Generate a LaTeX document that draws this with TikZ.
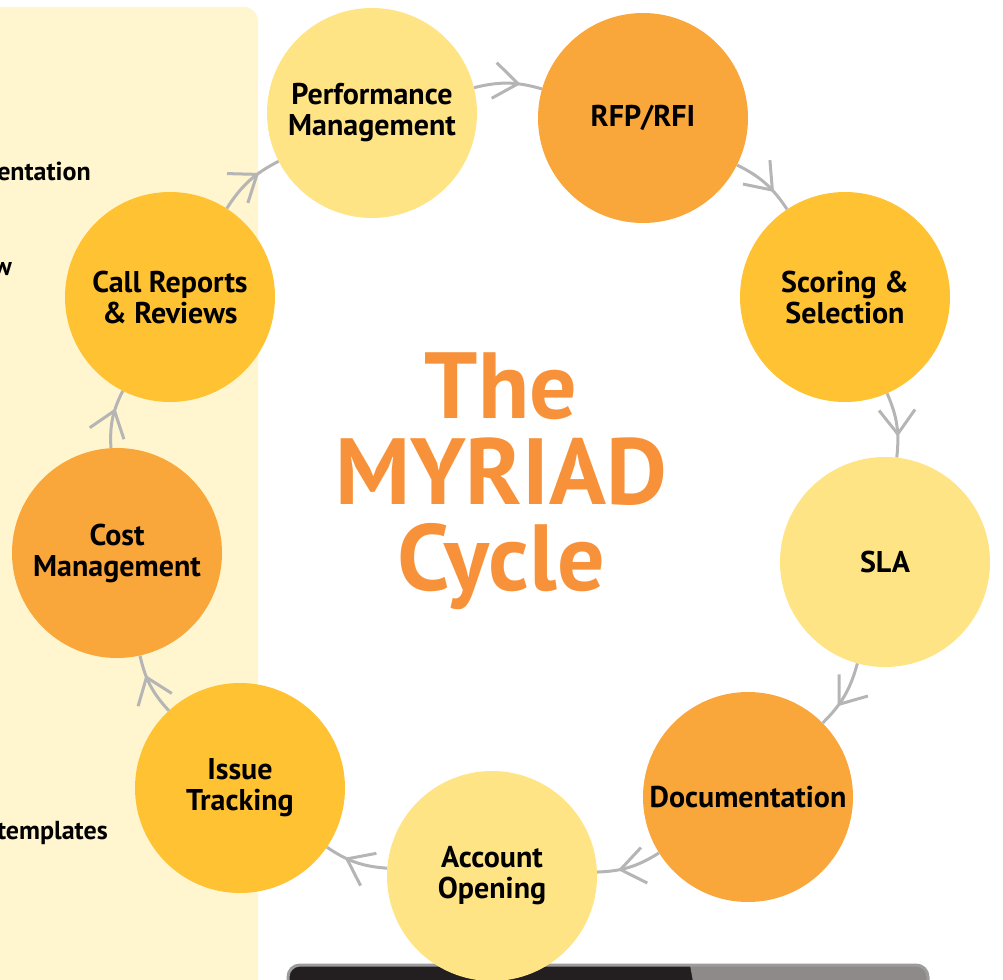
\documentclass[tikz,border=0pt]{standalone}
\usepackage{fontspec}
\setmainfont{PT Sans}
\usetikzlibrary{arrows.meta,decorations.markings}

\definecolor{paleyellow}{HTML}{FFE485}
\definecolor{deeporange}{HTML}{F9A63B}
\definecolor{goldyellow}{HTML}{FFC233}
\definecolor{panelcream}{HTML}{FFF5CF}
\definecolor{arrowgray}{HTML}{B5B5B5}
\definecolor{titleorange}{HTML}{F7923A}
\definecolor{boxdark}{HTML}{231F20}
\definecolor{boxgray}{HTML}{8E8A8A}
\definecolor{boxrim}{HTML}{9C9C9C}

\tikzset{
  stage/.style={circle, minimum size=210pt, inner sep=0pt, align=center,
    font=\bfseries\fontsize{30}{31}\selectfont},
  flow/.style={draw=arrowgray, line width=3pt, postaction={decorate},
    decoration={markings,
      mark=at position 0.68 with {\arrow{Straight Barb[length=24pt,width=36pt]}}}},
  sidetext/.style={anchor=base east, inner sep=0pt, font=\bfseries\fontsize{26}{30}\selectfont}
}

\begin{document}
\begin{tikzpicture}[x=1pt,y=-1pt]
\useasboundingbox (0,0) rectangle (1003,979);
\clip (0,0) rectangle (1003,979);

% side panel
\fill [panelcream, rounded corners=14pt] (-30,7) rectangle (258,1010);
\node [sidetext] (impl) at (91,180) {entation};
\node [sidetext] (flowtxt) at (12,275) {w};
\node [sidetext] (tmpl) at (108,839) {templates};

% screen at the bottom
\begin{scope}
  \clip [rounded corners=12pt] (288,965) rectangle (928,1020);
  \fill [boxdark] (288,965) rectangle (928,1020);
  \fill [boxgray] (690,965) -- (928,965) -- (928,1020) -- (700,1020) -- cycle;
\end{scope}
\draw [boxrim, line width=3pt, rounded corners=12pt] (288,965) rectangle (928,1020);

% title
\node [font=\bfseries\fontsize{94}{86}\selectfont, text=titleorange, align=center]
  (title) at (501,481) {The\\MYRIAD\\Cycle};

% stages
\node [stage, fill=paleyellow] (perf) at (372,113) {Performance\\Management};
\node [stage, fill=deeporange] (rfp)  at (643,118) {RFP/RFI};
\node [stage, fill=goldyellow] (score) at (845,297) {Scoring \&\\Selection};
\node [stage, fill=paleyellow] (sla)  at (885,562) {SLA};
\node [stage, fill=deeporange] (docu) at (748,797) {Documentation};
\node [stage, fill=paleyellow] (acct) at (492,876) {Account\\Opening};
\node [stage, fill=goldyellow] (issue) at (240,788) {Issue\\Tracking};
\node [stage, fill=deeporange] (cost) at (117,553) {Cost\\Management};
\node [stage, fill=goldyellow] (call) at (170,297) {Call Reports\\\& Reviews};

% connectors
\draw [flow] (perf) to[bend left=15] (rfp);
\draw [flow] (rfp) to[bend left=15] (score);
\draw [flow] (score) to[bend left=15] (sla);
\draw [flow] (sla) to[bend left=15] (docu);
\draw [flow] (docu) to[bend left=15] (acct);
\draw [flow] (acct) to[bend left=15] (issue);
\draw [flow] (issue) to[bend left=15] (cost);
\draw [flow] (cost) to[bend left=15] (call);
\draw [flow] (call) to[bend left=15] (perf);

\end{tikzpicture}
\end{document}
